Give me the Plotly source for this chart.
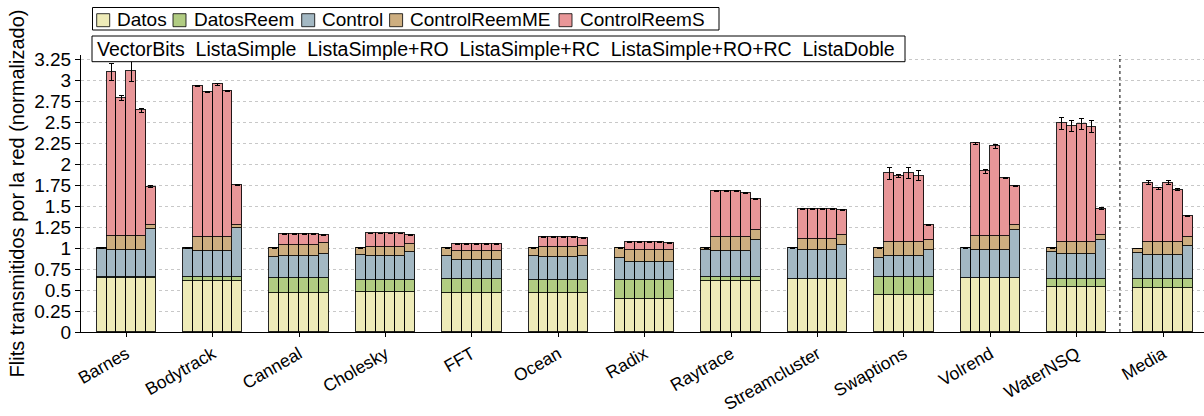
import plotly.graph_objects as go

benchmarks = ["Barnes", "Bodytrack", "Canneal", "Cholesky", "FFT", "Ocean", "Radix",
              "Raytrace", "Streamcluster", "Swaptions", "Volrend", "WaterNSQ", "Media"]
variants = ["VectorBits", "ListaSimple", "ListaSimple+RO", "ListaSimple+RC",
            "ListaSimple+RO+RC", "ListaDoble"]
series_names = ["Datos", "DatosReem", "Control", "ControlReemME", "ControlReemS"]
colors = ["#EEEBB8", "#B1CC82", "#A3B8C3", "#CDAE80", "#E89698"]

# segment heights per benchmark, 6 variants each
datos = [
    [0.64, 0.64, 0.64, 0.64, 0.64, 0.64],
    [0.613, 0.613, 0.613, 0.613, 0.613, 0.613],
    [0.459, 0.459, 0.459, 0.459, 0.459, 0.459],
    [0.475, 0.475, 0.475, 0.475, 0.475, 0.475],
    [0.47, 0.47, 0.47, 0.47, 0.47, 0.47],
    [0.459, 0.459, 0.459, 0.459, 0.459, 0.459],
    [0.392, 0.392, 0.392, 0.392, 0.392, 0.392],
    [0.613, 0.613, 0.613, 0.613, 0.613, 0.613],
    [0.629, 0.629, 0.629, 0.629, 0.629, 0.629],
    [0.439, 0.439, 0.439, 0.439, 0.439, 0.439],
    [0.645, 0.645, 0.645, 0.645, 0.645, 0.645],
    [0.542, 0.542, 0.542, 0.542, 0.542, 0.542],
    [0.53, 0.53, 0.53, 0.53, 0.53, 0.53],
]
datos_reem = [
    [0.01, 0.01, 0.01, 0.01, 0.01, 0.01],
    [0.043, 0.043, 0.043, 0.043, 0.043, 0.043],
    [0.19, 0.19, 0.19, 0.19, 0.19, 0.19],
    [0.142, 0.142, 0.142, 0.142, 0.142, 0.142],
    [0.163, 0.163, 0.163, 0.163, 0.163, 0.163],
    [0.166, 0.166, 0.166, 0.166, 0.166, 0.166],
    [0.233, 0.233, 0.233, 0.233, 0.233, 0.233],
    [0.043, 0.043, 0.043, 0.043, 0.043, 0.043],
    [0.0, 0.0, 0.0, 0.0, 0.0, 0.0],
    [0.221, 0.221, 0.221, 0.221, 0.221, 0.221],
    [0.0, 0.0, 0.0, 0.0, 0.0, 0.0],
    [0.087, 0.087, 0.087, 0.087, 0.087, 0.087],
    [0.107, 0.107, 0.107, 0.107, 0.107, 0.107],
]
control = [
    [0.34, 0.33, 0.33, 0.33, 0.33, 0.575],
    [0.334, 0.313, 0.313, 0.313, 0.313, 0.584],
    [0.244, 0.261, 0.261, 0.261, 0.261, 0.285],
    [0.304, 0.293, 0.293, 0.293, 0.293, 0.34],
    [0.277, 0.229, 0.229, 0.229, 0.229, 0.229],
    [0.285, 0.268, 0.268, 0.268, 0.268, 0.28],
    [0.252, 0.213, 0.213, 0.213, 0.213, 0.213],
    [0.317, 0.313, 0.313, 0.313, 0.313, 0.444],
    [0.366, 0.344, 0.344, 0.344, 0.344, 0.411],
    [0.226, 0.25, 0.25, 0.25, 0.25, 0.32],
    [0.35, 0.335, 0.335, 0.335, 0.335, 0.565],
    [0.32, 0.305, 0.305, 0.305, 0.305, 0.471],
    [0.303, 0.283, 0.283, 0.283, 0.283, 0.393],
]
control_me = [
    [0.01, 0.167, 0.167, 0.167, 0.167, 0.045],
    [0.01, 0.161, 0.161, 0.161, 0.161, 0.04],
    [0.107, 0.13, 0.13, 0.13, 0.13, 0.126],
    [0.079, 0.107, 0.107, 0.107, 0.107, 0.095],
    [0.09, 0.107, 0.107, 0.107, 0.107, 0.107],
    [0.09, 0.124, 0.124, 0.124, 0.124, 0.115],
    [0.123, 0.142, 0.142, 0.142, 0.142, 0.142],
    [0.027, 0.161, 0.161, 0.161, 0.161, 0.118],
    [0.005, 0.134, 0.134, 0.134, 0.134, 0.12],
    [0.11, 0.158, 0.158, 0.158, 0.158, 0.12],
    [0.005, 0.163, 0.163, 0.163, 0.163, 0.063],
    [0.051, 0.142, 0.142, 0.142, 0.142, 0.055],
    [0.053, 0.148, 0.148, 0.148, 0.148, 0.097],
]
control_s = [
    [0.0, 1.953, 1.643, 1.963, 1.493, 0.46],
    [0.0, 1.80, 1.73, 1.82, 1.74, 0.47],
    [0.0, 0.126, 0.126, 0.126, 0.126, 0.094],
    [0.0, 0.157, 0.157, 0.157, 0.157, 0.102],
    [0.0, 0.079, 0.079, 0.079, 0.079, 0.081],
    [0.0, 0.113, 0.113, 0.113, 0.113, 0.095],
    [0.0, 0.091, 0.091, 0.091, 0.091, 0.083],
    [0.0, 0.546, 0.546, 0.546, 0.53, 0.368],
    [0.0, 0.36, 0.363, 0.36, 0.357, 0.295],
    [0.0, 0.822, 0.794, 0.826, 0.791, 0.17],
    [0.0, 1.103, 0.77, 1.067, 0.692, 0.467],
    [0.0, 1.41, 1.379, 1.403, 1.371, 0.315],
    [0.0, 0.711, 0.644, 0.712, 0.628, 0.253],
]
errors = [
    [0.004, 0.10, 0.03, 0.12, 0.02, 0.01],
    [0.004, 0.01, 0.008, 0.008, 0.008, 0.004],
    [0.004, 0.005, 0.005, 0.005, 0.005, 0.005],
    [0.004, 0.005, 0.005, 0.005, 0.005, 0.005],
    [0.004, 0.005, 0.005, 0.005, 0.005, 0.005],
    [0.004, 0.005, 0.005, 0.005, 0.005, 0.005],
    [0.004, 0.005, 0.005, 0.005, 0.005, 0.005],
    [0.004, 0.005, 0.005, 0.005, 0.005, 0.005],
    [0.004, 0.005, 0.005, 0.005, 0.005, 0.005],
    [0.004, 0.07, 0.02, 0.07, 0.06, 0.005],
    [0.004, 0.01, 0.02, 0.02, 0.01, 0.005],
    [0.004, 0.07, 0.07, 0.07, 0.07, 0.01],
    [0.004, 0.02, 0.01, 0.02, 0.01, 0.005],
]
ytick_vals = [0, 0.25, 0.5, 0.75, 1, 1.25, 1.5, 1.75, 2, 2.25, 2.5, 2.75, 3, 3.25]
ytick_text = ["0", "0.25", "0.5", "0.75", "1", "1.25", "1.5", "1.75", "2", "2.25",
              "2.5", "2.75", "3", "3.25"]

FONT = "Liberation Sans, Arial, sans-serif"
W_FIG, H_FIG = 1204, 416
M_L, M_R, M_T, M_B = 81, 0, 55, 84
PW, PH = W_FIG - M_L - M_R, H_FIG - M_T - M_B

def px(xpix):
    return (xpix - M_L) / PW

def py(ypix):
    return (H_FIG - M_B - ypix) / PH

nv = len(variants)
bw = 0.686 / nv
xs = [g + (v - (nv - 1) / 2) * bw for g in range(len(benchmarks)) for v in range(nv)]

def flat(a):
    return [val for row in a for val in row]

fig = go.Figure()
all_series = [datos, datos_reem, control, control_me, control_s]
for i, (name, data) in enumerate(zip(series_names, all_series)):
    kw = {}
    if name == "ControlReemS":
        kw["error_y"] = dict(type="data", array=flat(errors), color="black",
                             thickness=1, width=2.5, visible=True)
    fig.add_trace(go.Bar(
        x=xs, y=flat(data), name=name, width=bw, showlegend=False,
        marker=dict(color=colors[i], line=dict(color="rgba(0,0,0,0.85)", width=1)),
        **kw))

# separator before the average group
fig.add_shape(type="line", xref="x", yref="paper", x0=len(benchmarks) - 1.5,
              x1=len(benchmarks) - 1.5, y0=0, y1=1,
              line=dict(color="black", width=1, dash="dot"))

# legend box 1 (series colours)
fig.add_shape(type="rect", xref="paper", yref="paper", x0=px(92.5), x1=px(719),
              y0=py(30), y1=py(7.5), fillcolor="white",
              line=dict(color="black", width=1), layer="above")
leg_square_x = [96.7, 173, 301.7, 389.6, 559]
leg_text_x = [114.5, 191.5, 319.5, 407.5, 577.5]
for i, name in enumerate(series_names):
    fig.add_shape(type="rect", xref="paper", yref="paper",
                  x0=px(leg_square_x[i]), x1=px(leg_square_x[i] + 13),
                  y0=py(26.7), y1=py(13.7), fillcolor=colors[i],
                  line=dict(color="rgba(0,0,0,0.8)", width=1), layer="above")
    fig.add_annotation(text=name, xref="paper", yref="paper", x=px(leg_text_x[i]),
                       y=py(19.5), xanchor="left", yanchor="middle", showarrow=False,
                       font=dict(family=FONT, size=19, color="black"))

# legend box 2 (variant order)
fig.add_shape(type="rect", xref="paper", yref="paper", x0=px(92), x1=px(905),
              y0=py(61.7), y1=py(36), fillcolor="white",
              line=dict(color="black", width=1), layer="above")
fig.add_annotation(
    text="\u00a0\u00a0".join(variants), xref="paper", yref="paper",
    x=px(94.5), y=py(48.5), xanchor="left", yanchor="middle", showarrow=False,
    font=dict(family=FONT, size=19.5, color="black"))

fig.update_layout(
    width=W_FIG, height=H_FIG,
    margin=dict(l=M_L, r=M_R, t=M_T, b=M_B),
    barmode="stack", bargap=0,
    plot_bgcolor="white", paper_bgcolor="white",
    font=dict(family=FONT, size=19, color="black"),
    showlegend=False,
    xaxis=dict(range=[-0.524, 12.473], tickmode="array",
               tickvals=list(range(len(benchmarks))), ticktext=benchmarks,
               tickangle=-30, ticks="outside", ticklen=4, tickcolor="black",
               showline=True, linecolor="black", linewidth=1, showgrid=False,
               zeroline=False, tickfont=dict(size=17.5), automargin=False),
    yaxis=dict(range=[0, 3.3], tickmode="array", tickvals=ytick_vals,
               ticktext=ytick_text, ticks="outside", ticklen=5, tickcolor="black",
               showline=True, linecolor="black", linewidth=1,
               showgrid=True, gridcolor="#c8c8c8", griddash="dot", gridwidth=1,
               zeroline=False, tickfont=dict(size=19), automargin=False,
               title=dict(text="Flits transmitidos por la red (normalizado)",
                          font=dict(size=20), standoff=4)),
)

fig.write_html(
    "out.html",
    config={"displayModeBar": False},
    post_script="document.body.style.margin='0';document.body.style.padding='0';"
                "document.documentElement.style.overflow='hidden';",
)
